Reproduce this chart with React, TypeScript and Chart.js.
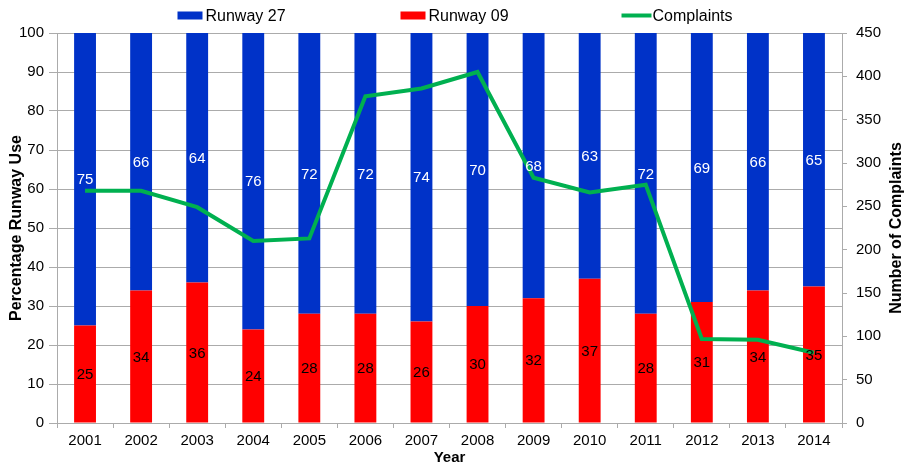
import { useEffect, useRef } from 'react';
import { Chart, registerables } from 'chart.js';

Chart.register(...registerables);

const years = ['2001', '2002', '2003', '2004', '2005', '2006', '2007', '2008', '2009', '2010', '2011', '2012', '2013', '2014'];
const runway27 = [75, 66, 64, 76, 72, 72, 74, 70, 68, 63, 72, 69, 66, 65];
const runway09 = [25, 34, 36, 24, 28, 28, 26, 30, 32, 37, 28, 31, 34, 35];
const complaints = [268, 268, 249, 210, 213, 377, 386, 405, 283, 266, 275, 97, 96, 81];

const BLUE = '#0032C8';
const RED = '#FF0000';
const GREEN = '#00B050';
const GRID = '#ABABAB';
const FONT = '"Liberation Sans", Arial, sans-serif';

const dataLabels = {
  id: 'dataLabels',
  afterDatasetsDraw(chart: any) {
    const ctx = chart.ctx;
    ctx.save();
    ctx.font = `15px ${FONT}`;
    ctx.textAlign = 'center';
    ctx.textBaseline = 'middle';
    chart.data.datasets.forEach((ds: any, di: number) => {
      if (ds.type === 'line') return;
      const meta = chart.getDatasetMeta(di);
      meta.data.forEach((el: any, i: number) => {
        const p = el.getCenterPoint();
        ctx.fillStyle = ds.labelColor;
        ctx.fillText(String(ds.data[i]), p.x, p.y + 1);
      });
    });
    ctx.restore();
  },
};

const customLegend = {
  id: 'customLegend',
  afterDraw(chart: any) {
    const ctx = chart.ctx;
    const ca = chart.chartArea;
    const cx = (ca.left + ca.right) / 2;
    const order = [1, 0, 2];
    const offsets = [-272, -49, 172];
    const y = 15.5;
    ctx.save();
    ctx.font = `16px ${FONT}`;
    ctx.textBaseline = 'middle';
    ctx.textAlign = 'left';
    order.forEach((di, k) => {
      const ds = chart.data.datasets[di];
      const x = cx + offsets[k];
      let textX;
      if (ds.type === 'line') {
        ctx.strokeStyle = ds.borderColor;
        ctx.lineWidth = 4;
        ctx.beginPath();
        ctx.moveTo(x, y);
        ctx.lineTo(x + 30, y);
        ctx.stroke();
        textX = x + 31;
      } else {
        ctx.fillStyle = ds.backgroundColor;
        ctx.fillRect(x, y - 4, 25, 8);
        textX = x + 28;
      }
      ctx.fillStyle = '#000';
      ctx.fillText(ds.label, textX, y + 1);
    });
    ctx.restore();
  },
};

const rightTitle = {
  id: 'rightTitle',
  afterDraw(chart: any) {
    const ctx = chart.ctx;
    const ca = chart.chartArea;
    ctx.save();
    ctx.font = `bold 16px ${FONT}`;
    ctx.fillStyle = '#000';
    ctx.textAlign = 'center';
    ctx.textBaseline = 'middle';
    ctx.translate(897, (ca.top + ca.bottom) / 2);
    ctx.rotate(-Math.PI / 2);
    ctx.fillText('Number of Complaints', 0, 0);
    ctx.restore();
  },
};

export default function App() {
  const ref = useRef<HTMLCanvasElement | null>(null);

  useEffect(() => {
    if (!ref.current) return;
    Chart.defaults.font.family = FONT;
    const chart = new Chart(ref.current, {
      type: 'bar',
      data: {
        labels: years,
        datasets: [
          {
            type: 'bar',
            label: 'Runway 09',
            data: runway09,
            backgroundColor: RED,
            labelColor: '#000',
            yAxisID: 'y',
            order: 1,
            barPercentage: 0.39,
            categoryPercentage: 1,
          } as any,
          {
            type: 'bar',
            label: 'Runway 27',
            data: runway27,
            backgroundColor: BLUE,
            labelColor: '#fff',
            yAxisID: 'y',
            order: 1,
            barPercentage: 0.39,
            categoryPercentage: 1,
          } as any,
          {
            type: 'line',
            label: 'Complaints',
            data: complaints,
            borderColor: GREEN,
            backgroundColor: GREEN,
            borderWidth: 4,
            pointRadius: 0,
            tension: 0,
            yAxisID: 'y1',
            order: 0,
          } as any,
        ],
      },
      options: {
        animation: false,
        responsive: false,
        layout: { padding: { top: 33, left: 0, right: 0, bottom: 0 } },
        plugins: {
          legend: { display: false },
          tooltip: { enabled: false },
        },
        scales: {
          x: {
            stacked: true,
            grid: { drawOnChartArea: false, drawTicks: true, tickLength: 5, color: GRID },
            border: { color: GRID },
            ticks: { color: '#000', font: { size: 15 }, padding: 4, maxRotation: 0 },
            title: { display: true, text: 'Year', color: '#000', font: { size: 15, weight: 'bold' }, padding: { top: 0, bottom: 4 } },
            afterFit(scale: any) { scale.height = 48; },
          },
          y: {
            stacked: true,
            position: 'left',
            min: 0,
            max: 100,
            ticks: { stepSize: 10, color: '#000', font: { size: 15 }, padding: 5 },
            grid: { color: GRID, tickLength: 8 },
            border: { color: GRID },
            title: { display: true, text: 'Percentage Runway Use', color: '#000', font: { size: 16, weight: 'bold' }, padding: { top: 7, bottom: 0 } },
            afterFit(scale: any) { scale.width = 57; },
          },
          y1: {
            position: 'right',
            min: 0,
            max: 450,
            ticks: { stepSize: 50, color: '#000', font: { size: 15 }, padding: 9 },
            grid: { drawOnChartArea: false, color: GRID, tickLength: 5 },
            border: { color: GRID },
            afterFit(scale: any) { scale.width = 65; },
          },
        },
      } as any,
      plugins: [dataLabels, customLegend, rightTitle],
    });
    return () => chart.destroy();
  }, []);

  return (
    <div style={{ position: 'absolute', left: 0, top: 0, width: 907, height: 471 }}>
      <canvas ref={ref} width={907} height={471} style={{ display: 'block' }} />
    </div>
  );
}
